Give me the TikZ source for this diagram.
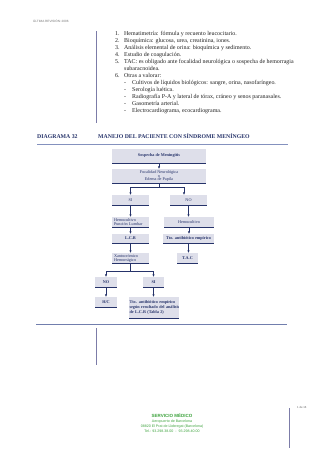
\documentclass[tikz,border=0pt]{standalone}
\usepackage{fontspec}
\setmainfont{Liberation Serif}
\newfontfamily\arialf{Liberation Sans}
\usetikzlibrary{arrows.meta}
\definecolor{navy}{HTML}{26336A}
\definecolor{boxfill}{HTML}{DEDFEA}
\definecolor{rulec}{HTML}{8491BE}
\definecolor{vline}{HTML}{7C7CA8}
\definecolor{greenf}{HTML}{3DA33D}
\definecolor{txt}{HTML}{222222}
\tikzset{
  listtxt/.style={anchor=base west, inner sep=0pt, text=txt, font=\fontsize{5.95}{6.5}\selectfont},
  fbox/.style={fill=boxfill, draw=none, inner sep=0pt, outer sep=0pt, anchor=north west, text=navy,
               font=\fontsize{4.2}{5}\selectfont, align=center},
  fboxb/.style={fbox, font=\fontsize{4.2}{5}\selectfont\bfseries},
  botline/.style={draw=navy, line width=0.7pt},
  conn/.style={draw=navy, line width=0.55pt},
  arr/.style={conn, -{Latex[length=2.6pt,width=2.2pt]}},
  footer/.style={font=\arialf\fontsize{3.6}{4}\selectfont, text=greenf, inner sep=0pt},
}
\newcommand{\bline}[1]{\draw[botline] (#1.south west) -- (#1.south east);}
\begin{document}
\begin{tikzpicture}[x=1pt,y=-1pt]
\useasboundingbox[fill=white] (0,0) rectangle (320,453);

% header
\node[anchor=west, inner sep=0pt, text=black!55, font=\arialf\fontsize{3.1}{3.5}\selectfont] (hdr) at (33,21) {ÚLTIMA REVISIÓN: 2006};

% left vertical rules
\draw[vline, line width=0.8pt] (96,31) -- (96,123);
\draw[vline, line width=0.8pt] (96,328) -- (96,365);
\draw[vline, line width=0.8pt] (289,408) -- (289,448);

% list
\node[listtxt] (n1) at (115,35.8) {1.};
\node[listtxt] (t1) at (124,35.8) {Hematimetría: fórmula y recuento leucocitario.};
\node[listtxt] (n2) at (115,42.8) {2.};
\node[listtxt] (t2) at (124,42.8) {Bioquímica: glucosa, urea, creatinina, iones.};
\node[listtxt] (n3) at (115,49.8) {3.};
\node[listtxt] (t3) at (124,49.8) {Análisis elemental de orina: bioquímica y sedimento.};
\node[listtxt] (n4) at (115,56.8) {4.};
\node[listtxt] (t4) at (124,56.8) {Estudio de coagulación.};
\node[listtxt] (n5) at (115,63.8) {5.};
\node[listtxt] (t5) at (124,63.8) {TAC: es obligado ante focalidad neurológica o sospecha de hemorragia};
\node[listtxt] (t5b) at (124,70.8) {subaracnoidea.};
\node[listtxt] (n6) at (115,77.8) {6.};
\node[listtxt] (t6) at (124,77.8) {Otras a valorar:};
\node[listtxt] (d1) at (124,84.8) {-};
\node[listtxt] (s1) at (132,84.8) {Cultivos de líquidos biológicos: sangre, orina, nasofaríngeo.};
\node[listtxt] (d2) at (124,91.8) {-};
\node[listtxt] (s2) at (132,91.8) {Serología luética.};
\node[listtxt] (d3) at (124,98.8) {-};
\node[listtxt] (s3) at (132,98.8) {Radiografía P-A y lateral de tórax, cráneo y senos paranasales.};
\node[listtxt] (d4) at (124,105.8) {-};
\node[listtxt] (s4) at (132,105.8) {Gasometría arterial.};
\node[listtxt] (d5) at (124,112.8) {-};
\node[listtxt] (s5) at (132,112.8) {Electrocardiograma, ecocardiograma.};

% heading
\node[anchor=base west, inner sep=0pt, text=navy, font=\fontsize{5.8}{6}\selectfont\bfseries] (dg) at (37,138) {DIAGRAMA 32};
\node[anchor=base west, inner sep=0pt, text=navy, font=\fontsize{5.8}{6}\selectfont\bfseries] (ttl) at (98,138) {MANEJO DEL PACIENTE CON SÍNDROME MENÍNGEO};
\draw[rulec, line width=1.2pt] (37,144.5) -- (288,144.5);

% flow boxes
\node[fboxb, minimum width=94pt, minimum height=14pt] (b1) at (112,149) {Sospecha de Meningitis};
\node[fbox, minimum width=94pt, minimum height=14pt] (b2) at (112,169) {Focalidad Neurológica\\[-1.2pt] o\\[-1.2pt] Edema de Papila};
\node[fbox, minimum width=37pt, minimum height=10pt] (si) at (112,195) {SI};
\node[fbox, minimum width=37pt, minimum height=10pt] (no) at (170,195) {NO};
\node[fbox, minimum width=37pt, minimum height=10pt, align=left, text width=33pt, inner xsep=2pt] (hp) at (112,217) {Hemocultivo\\[-1pt] Punción Lumbar};
\node[fbox, minimum width=50pt, minimum height=10pt] (hr) at (164,217) {Hemocultivo};
\node[fboxb, minimum width=37pt, minimum height=9pt] (lcr) at (112,234) {L.C.R};
\node[fboxb, minimum width=51pt, minimum height=9pt] (tr) at (163,234) {Tto. antibiótico empírico};
\node[fbox, minimum width=37pt, minimum height=10pt, align=left, text width=33pt, inner xsep=2pt] (xa) at (112,253) {Xantocrómico\\[-1pt] Hemorrágico};
\node[fboxb, minimum width=21pt, minimum height=10pt] (tac) at (177,253) {T.A.C};
\node[fboxb, minimum width=22pt, minimum height=10pt] (no2) at (95,277) {NO};
\node[fboxb, minimum width=21pt, minimum height=10pt] (si2) at (143,277) {SI};
\node[fboxb, minimum width=22pt, minimum height=10pt] (hc) at (95,297) {H/C};
\node[fboxb, minimum width=50pt, minimum height=21pt, align=left, text width=49pt, inner xsep=0.5pt] (tt2) at (129,297)
  {\makebox[49pt][s]{Tto. antibiótico empírico}\\[-0.4pt]\makebox[49pt][s]{según resultado del análisis}\\[-0.4pt]de L.C.R (Tabla 2)};

\bline{b1}\bline{b2}\bline{si}\bline{no}\bline{hp}\bline{hr}\bline{lcr}\bline{tr}
\bline{xa}\bline{tac}\bline{no2}\bline{si2}\bline{hc}\bline{tt2}

% connectors
\draw[arr] (b1.south) -- (b2.north);
\coordinate (jl) at (si.north |- 0,187);
\coordinate (jr) at (184,187);
\draw[conn] (b2.south) -- (b2.south |- jl);
\draw[conn] (jl) -- (jr);
\draw[arr] (jl) -- (si.north);
\draw[arr] (jr) -- (jr |- no.north);
\draw[arr] (si.south) -- (si.south |- hp.north);
\draw[arr] (no.south) -- (no.south |- hr.north);
\draw[arr] (hp.south) -- (hp.south |- lcr.north);
\draw[arr] (hr.south) -- (hr.south |- tr.north);
\draw[arr] (lcr.south) -- (lcr.south |- xa.north);
\draw[arr] (tr.south) -- (tr.south |- tac.north);
\coordinate (kl) at (no2.north |- 0,271);
\coordinate (kr) at (si2.north |- 0,271);
\draw[conn] (xa.south) -- (xa.south |- kl);
\draw[conn] (kl) -- (kr);
\draw[arr] (kl) -- (no2.north);
\draw[arr] (kr) -- (si2.north);
\draw[arr] (no2.south) -- (hc.north);
\draw[arr] (si2.south) -- (si2.south |- tt2.north);

% bottom rule
\draw[rulec!80!navy, line width=0.8pt] (36,324) -- (287,324);

% footer
\node[footer, font=\arialf\fontsize{4.5}{5}\selectfont\bfseries] (f1) at (172,416) {SERVICIO MÉDICO};
\node[footer] (f2) at (172,421.5) {Aeropuerto de Barcelona};
\node[footer] (f3) at (172,426.5) {08820 El Prat de Llobregat (Barcelona)};
\node[footer] (f4) at (172,431) {Tel.: 93.298.38.00 \ - \ 93.298.40.00};
\node[anchor=west, inner sep=0pt, text=black!60, font=\arialf\fontsize{2.8}{3}\selectfont] (pg) at (297,407) {1 de 16};
\end{tikzpicture}
\end{document}
